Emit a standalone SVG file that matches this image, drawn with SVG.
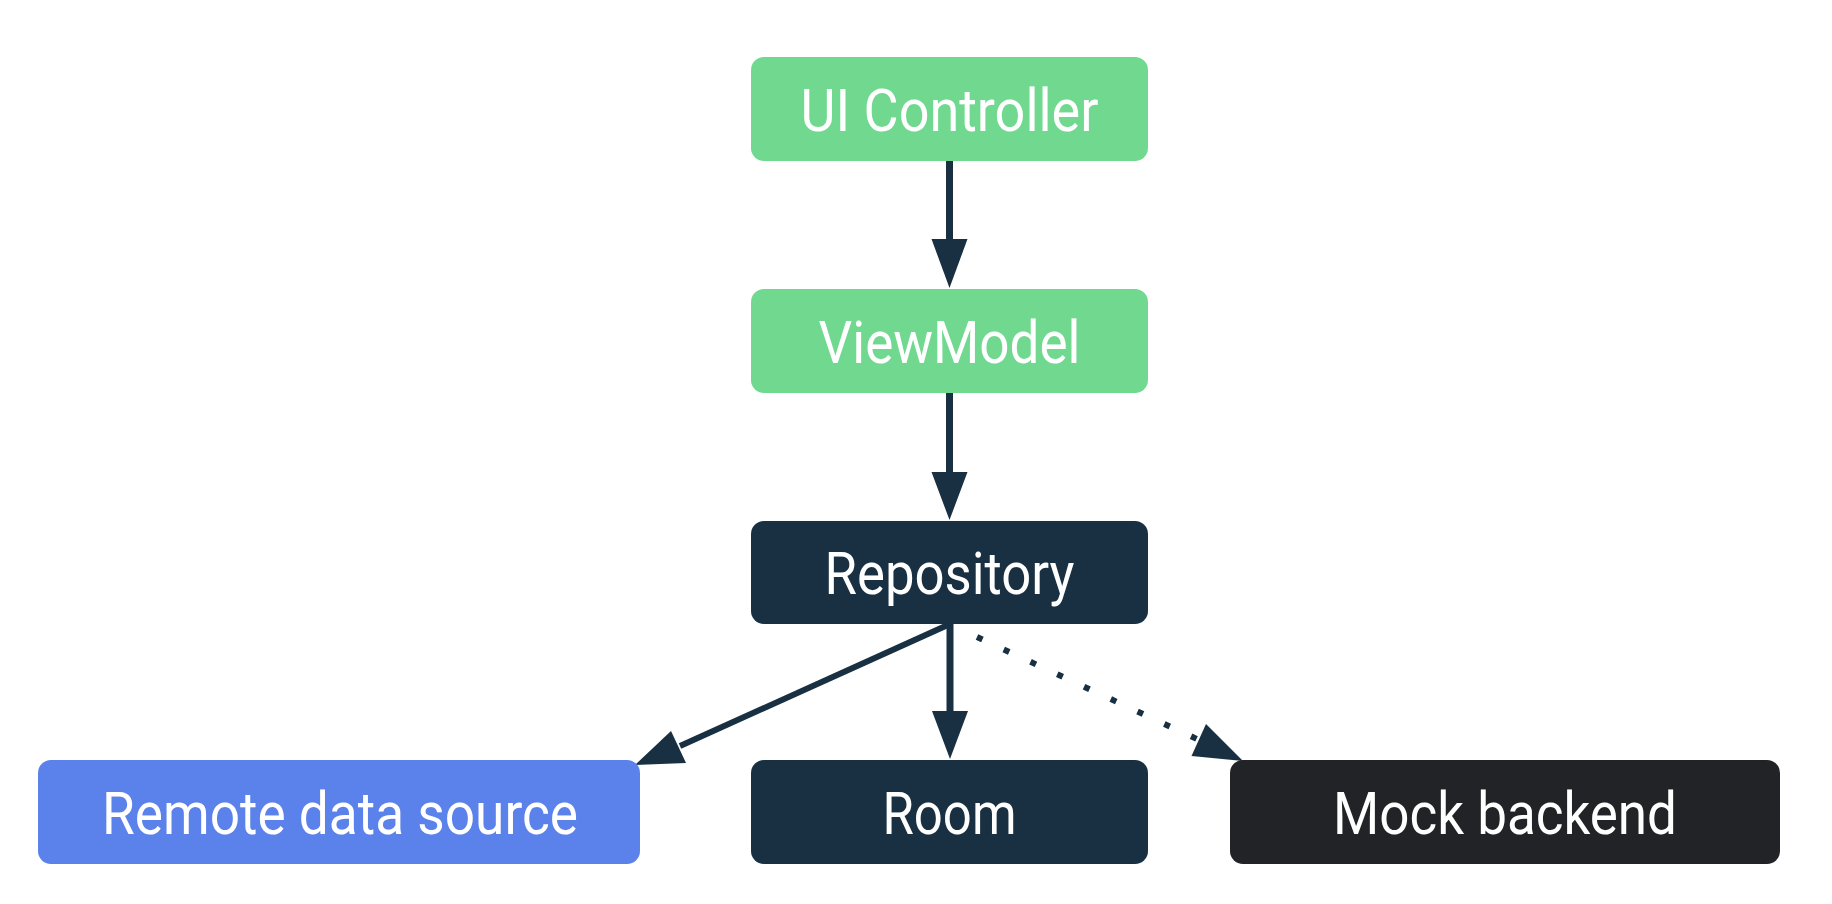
<svg xmlns="http://www.w3.org/2000/svg" width="1832" height="904" viewBox="0 0 1832 904">
<style>
.t{font-family:"Roboto","Liberation Sans",sans-serif;font-size:60px;fill:#ffffff;text-anchor:middle}
.green{fill:#71d98f}
.navy{fill:#183042}
.blue{fill:#5b82eb}
.black{fill:#222326}
.ln{stroke:#183042;stroke-width:7;fill:none}
.hd{fill:#183042}
</style>
<rect width="1832" height="904" fill="#ffffff"/>
<g id="connectors">
  <line class="ln" x1="949.5" y1="161" x2="949.5" y2="242"/>
  <polygon class="hd" points="931.5,239 967.5,239 949.5,288"/>
  <line class="ln" x1="949.5" y1="393" x2="949.5" y2="475"/>
  <polygon class="hd" points="931.5,472 967.5,472 949.5,520"/>
  <line class="ln" x1="950" y1="624" x2="950" y2="714"/>
  <polygon class="hd" points="932,711 968,711 950,759"/>
  <line class="ln" x1="950" y1="624" x2="680" y2="746" style="stroke-width:6"/>
  <polygon class="hd" points="635,765 671,731 686,763"/>
  <line class="ln" x1="977" y1="637" x2="1199" y2="740" style="stroke-width:6;stroke-dasharray:6 23.5"/>
  <polygon class="hd" points="1243,761 1206,724 1191.5,756"/>
</g>
<g id="ui-controller">
  <rect class="green" x="751" y="57" width="397" height="104" rx="13"/>
  <text class="t" x="949.5" y="131" textLength="298" lengthAdjust="spacingAndGlyphs">UI Controller</text>
</g>
<g id="viewmodel">
  <rect class="green" x="751" y="289" width="397" height="104" rx="13"/>
  <text class="t" x="949.5" y="363" textLength="262" lengthAdjust="spacingAndGlyphs">ViewModel</text>
</g>
<g id="repository">
  <rect class="navy" x="751" y="521" width="397" height="103" rx="13"/>
  <text class="t" x="949.5" y="594" textLength="250" lengthAdjust="spacingAndGlyphs">Repository</text>
</g>
<g id="remote-data-source">
  <rect class="blue" x="38" y="760" width="602" height="104" rx="13"/>
  <text class="t" x="340" y="834" textLength="476" lengthAdjust="spacingAndGlyphs">Remote data source</text>
</g>
<g id="room">
  <rect class="navy" x="751" y="760" width="397" height="104" rx="13"/>
  <text class="t" x="949.5" y="834" textLength="134" lengthAdjust="spacingAndGlyphs">Room</text>
</g>
<g id="mock-backend">
  <rect class="black" x="1230" y="760" width="550" height="104" rx="13"/>
  <text class="t" x="1505" y="834" textLength="344" lengthAdjust="spacingAndGlyphs">Mock backend</text>
</g>
</svg>
